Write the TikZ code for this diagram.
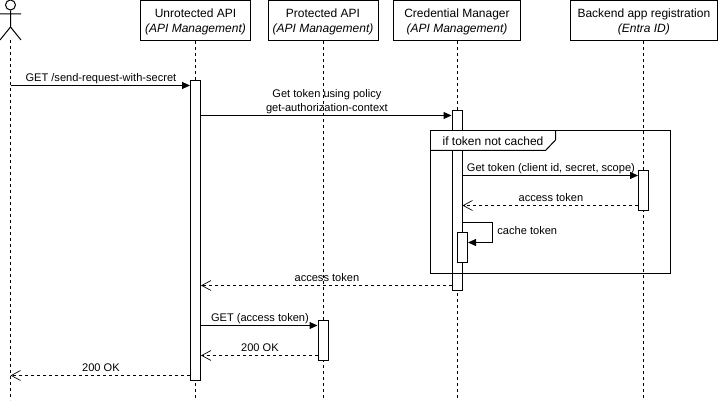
\documentclass[tikz,border=0pt]{standalone}
\usepackage{fontspec}
\setmainfont{Liberation Sans}
\usetikzlibrary{arrows.meta,calc}
\newcommand{\headpad}{\rule{0pt}{9pt}}
\tikzset{
  px/.style={x=0.75pt,y=-0.75pt},
  base/.style={line width=0.75pt,draw=black},
  head/.style={base,fill=white,minimum height=30pt,inner sep=0pt,align=center,font=\fontsize{9}{11}\selectfont},
  life/.style={base,dash pattern=on 2.25pt off 2.25pt},
  act/.style={base,fill=white,minimum width=7.5pt,inner sep=0pt},
  call/.style={base,-{Triangle[length=6pt,width=5.2pt]}},
  ret/.style={base,dash pattern=on 2.25pt off 2.25pt,-{Straight Barb[length=7pt,width=7.5pt,line width=.5pt]}},
  lab/.style={font=\fontsize{8.3}{10.5}\selectfont,inner sep=0pt,anchor=south,xshift=.5pt,yshift=.6pt,text height=6.2pt,text depth=1.8pt},
}
\begin{document}
\begin{tikzpicture}[px]
\useasboundingbox (0,0) rectangle (718,402);
\fill[white] (0,0) rectangle (718,402);
% participants
\node[head,minimum width=82.5pt] (unprot) at (195.5,20.5) {\headpad Unrotected API\\\textit{(API Management)}};
\node[head,minimum width=82.5pt] (prot) at (323,20.5) {\headpad Protected API\\\textit{(API Management)}};
\node[head,minimum width=95.25pt] (cred) at (457,20.5) {\headpad Credential Manager\\\textit{(API Management)}};
\node[head,minimum width=110.6pt] (back) at (643.9,20.5) {\headpad Backend app registration\\\textit{(Entra ID)}};
% actor
\node[base,draw,circle,minimum size=7.5pt,inner sep=0pt] (user) at (10.5,5) {};
\coordinate (hip) at (10.5,27);
\coordinate (armL) at (0,14);
\coordinate (armR) at (21,14);
\coordinate (legL) at (0,40);
\coordinate (legR) at (21,40);
\coordinate (userfoot) at (10.5,40);
\draw[base] (user.south) -- (hip) (armL) -- (armR) (legL) -- (hip) -- (legR);
% lifeline ends
\coordinate (userend) at (10.5,400);
\coordinate (unprotend) at (195.5,400);
\coordinate (protend) at (323,400);
\coordinate (credend) at (457,400);
\coordinate (backend) at (643.9,400);
\draw[life] (userfoot) -- (userend);
\draw[life] (unprot.south) -- (unprotend);
\draw[life] (prot.south) -- (protend);
\draw[life] (cred.south) -- (credend);
\draw[life] (back.south) -- (backend);
% activations
\node[act,minimum height=225pt] (aU) at (195.5,230.5) {};
\node[act,minimum height=135pt] (aC) at (457,200.5) {};
\node[act,minimum height=30pt] (aB) at (643.5,190.5) {};
\node[act,minimum height=22.5pt] (aK) at (462.5,247.5) {};
\node[act,minimum height=30pt] (aP) at (323,340.5) {};
% frame
\node[inner sep=0pt,minimum width=180pt,minimum height=107.25pt] (frame) at (550.5,202) {};
\coordinate (fa) at (555.5,130.5);
\coordinate (fb) at (555.5,140);
\coordinate (fc) at (545.5,150.5);
\coordinate (fd) at (430.5,150.5);
\fill[white] (frame.north west) -- (fa) -- (fb) -- (fc) -- (fd) -- cycle;
\draw[base] (frame.north west) -- (frame.north east) -- (frame.south east) -- (frame.south west) -- cycle;
\draw[base] (fa) -- (fb) -- (fc) -- (fd);
\node[font=\fontsize{9}{10.5}\selectfont,inner sep=0pt] (ftitle) at (493,140.8) {if token not cached};
% message end points
\coordinate (m1s) at (10.5,85.5);
\coordinate (m1e) at (aU.west |- m1s);
\coordinate (m2s) at (aU.east |- 0,115.5);
\coordinate (m2e) at (aC.west |- m2s);
\coordinate (m3s) at (aC.east |- 0,175.5);
\coordinate (m3e) at (aB.west |- m3s);
\coordinate (m4s) at (aB.west |- 0,205.5);
\coordinate (m4e) at (aC.east |- m4s);
\coordinate (m5s) at (aC.east |- 0,222.5);
\coordinate (m5a) at (492.5,222.5);
\coordinate (m5b) at (492.5,242.5);
\coordinate (m5e) at (aK.east |- m5b);
\coordinate (m6s) at (aC.west |- 0,285.5);
\coordinate (m6e) at (aU.east |- m6s);
\coordinate (m7s) at (aU.east |- 0,325.5);
\coordinate (m7e) at (aP.west |- m7s);
\coordinate (m8s) at (aP.west |- 0,355.5);
\coordinate (m8e) at (aU.east |- m8s);
\coordinate (m9s) at (aU.west |- 0,375.5);
\coordinate (m9e) at (10.5,375.5);
% messages
\draw[call] (m1s) -- node[lab]{GET /send-request-with-secret} (m1e);
\draw[call] (m2s) -- node[lab,text height=,text depth=,align=center]{Get token using policy\\get-authorization-context} (m2e);
\draw[call] (m3s) -- node[lab]{Get token (client id, secret, scope)} (m3e);
\draw[ret] (m4s) -- node[lab]{access token} (m4e);
\draw[call] (m5s) -- (m5a) -- (m5b) -- (m5e);
\node[lab,anchor=west] (cachelab) at (496.5,232.7) {cache token};
\draw[ret] (m6s) -- node[lab]{access token} (m6e);
\draw[call] (m7s) -- node[lab]{GET (access token)} (m7e);
\draw[ret] (m8s) -- node[lab]{200 OK} (m8e);
\draw[ret] (m9s) -- node[lab]{200 OK} (m9e);
\end{tikzpicture}
\end{document}
